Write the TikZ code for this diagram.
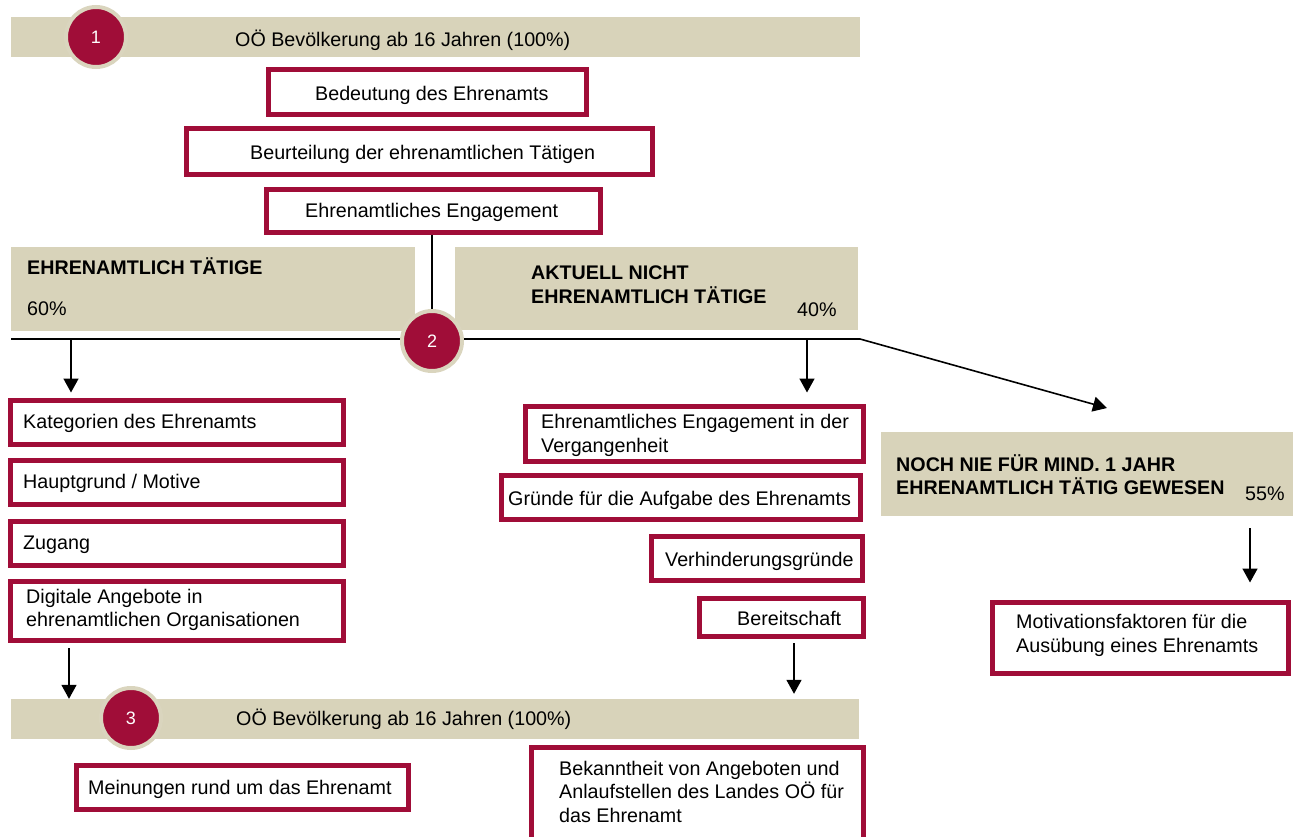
\documentclass[tikz,border=0pt]{standalone}
\usepackage{fontspec}
\setmainfont{Liberation Sans}
\usetikzlibrary{fit,arrows.meta}
\definecolor{crim}{HTML}{A00D38}
\definecolor{beige}{HTML}{D8D3BA}
\definecolor{ring}{HTML}{DAD5BE}
\tikzset{
  rbox/.style={draw=crim, line width=5pt, fill=white, inner sep=0pt, rectangle},
  band/.style={fill=beige, inner sep=0pt, rectangle},
  txt/.style={inner sep=0pt, anchor=base west, font=\fontsize{19.7}{23.5}\selectfont},
  btxt/.style={txt, font=\fontsize{19.7}{24}\selectfont\bfseries},
  num/.style={circle, fill=crim, draw=ring, line width=4pt, minimum size=60pt, inner sep=0pt, text=white, font=\fontsize{18}{20}\selectfont},
  conn/.style={draw=black, line width=1.6pt},
  arr/.style={conn, -{Triangle[width=15pt,length=14pt]}},
}
\begin{document}
\begin{tikzpicture}[x=1pt,y=-1pt]
\useasboundingbox (0,0) rectangle (1293,837);
% bands
\node[band, fit={(11,17)(860,57)}] (top) {};
\node[txt] (toptxt) at (235,46.5) {OÖ Bevölkerung ab 16 Jahren (100\%)};
\node[band, fit={(11,247)(415,331)}] (left) {};
\node[btxt] (lefth) at (27,274) {EHRENAMTLICH TÄTIGE};
\node[txt] (leftp) at (27,315) {60\%};
\node[band, fit={(455,247)(858,330)}] (right) {};
\node[btxt] (righth1) at (531,279) {AKTUELL NICHT};
\node[btxt] (righth2) at (531,303) {EHRENAMTLICH TÄTIGE};
\node[txt] (rightp) at (797,316) {40\%};
\node[band, fit={(881,432)(1293,516)}] (noch) {};
\node[btxt] (nochh1) at (896,471) {NOCH NIE FÜR MIND. 1 JAHR};
\node[btxt] (nochh2) at (896,494) {EHRENAMTLICH TÄTIG GEWESEN};
\node[txt] (nochp) at (1245,500) {55\%};
\node[band, fit={(11,699)(859,739)}] (bot) {};
\node[txt] (bottxt) at (236,725) {OÖ Bevölkerung ab 16 Jahren (100\%)};
% red boxes (outer edges inset by half the line width)
\node[rbox, fit={(268.5,69.5)(586.5,114.5)}] (bed) {};
\node[txt] (bedt) at (315,100.5) {Bedeutung des Ehrenamts};
\node[rbox, fit={(186.5,128.5)(652.5,174.5)}] (beu) {};
\node[txt] (beut) at (250,160) {Beurteilung der ehrenamtlichen Tätigen};
\node[rbox, fit={(266.5,189.5)(600.5,232.5)}] (eng) {};
\node[txt] (engt) at (305,218) {Ehrenamtliches Engagement};
\node[rbox, fit={(10.5,400.5)(343.5,444.5)}] (kat) {};
\node[txt] (katt) at (23,428) {Kategorien des Ehrenamts};
\node[rbox, fit={(10.5,460.5)(343.5,504.5)}] (hau) {};
\node[txt] (haut) at (23,488) {Hauptgrund / Motive};
\node[rbox, fit={(10.5,521.5)(343.5,565.5)}] (zug) {};
\node[txt] (zugt) at (23,549) {Zugang};
\node[rbox, fit={(10.5,581.5)(343.5,640.5)}] (dig) {};
\node[txt] (digt1) at (26,603) {Digitale Angebote in};
\node[txt] (digt2) at (26,626) {ehrenamtlichen Organisationen};
\node[rbox, fit={(525.5,406.5)(863.5,461.5)}] (ver) {};
\node[txt] (vert1) at (541,428) {Ehrenamtliches Engagement in der};
\node[txt] (vert2) at (541,452) {Vergangenheit};
\node[rbox, fit={(501.5,475.5)(860.5,519.5)}] (gru) {};
\node[txt] (grut) at (508,505) {Gründe für die Aufgabe des Ehrenamts};
\node[rbox, fit={(651.5,536.5)(862.5,580.5)}] (vhg) {};
\node[txt] (vhgt) at (665,566) {Verhinderungsgründe};
\node[rbox, fit={(699.5,598.5)(863.5,636.5)}] (ber) {};
\node[txt] (bert) at (737,625) {Bereitschaft};
\node[rbox, fit={(992.5,602.5)(1288.5,673.5)}] (mot) {};
\node[txt] (mott1) at (1016,628) {Motivationsfaktoren für die};
\node[txt] (mott2) at (1016,652) {Ausübung eines Ehrenamts};
\node[rbox, fit={(76.5,765.5)(408.5,809.5)}] (mei) {};
\node[txt] (meit) at (88,794) {Meinungen rund um das Ehrenamt};
\node[rbox, fit={(531.5,747.5)(863.5,850)}] (bek) {};
\node[txt] (bekt1) at (559,775) {Bekanntheit von Angeboten und};
\node[txt] (bekt2) at (559,798.5) {Anlaufstellen des Landes OÖ für};
\node[txt] (bekt3) at (559,822) {das Ehrenamt};
% connectors
\coordinate (c2pos) at (432,341);
\coordinate (hl) at (11,339);
\coordinate (hr) at (860,339);
\coordinate (dtip) at (1107,408);
\draw[conn, line width=1.5pt] (eng.south -| c2pos) -- (c2pos);
\draw[conn, line width=2.4pt] (hl) -- (hr);
\draw[arr, line width=1.6pt] (hr) -- (dtip);
\coordinate (a1) at (71,339);
\draw[arr, shorten >=5.5pt] (a1) -- (a1 |- kat.north);
\coordinate (a2) at (807,339);
\draw[arr, shorten >=11.5pt] (a2) -- (a2 |- ver.north);
\coordinate (a3) at (1250,528);
\draw[arr, shorten >=17.5pt] (a3) -- (a3 |- mot.north);
\coordinate (a4) at (69,648);
\draw[arr] (a4) -- (a4 |- bot.north);
\coordinate (a5) at (794,643);
\draw[arr, shorten >=5pt] (a5) -- (a5 |- bot.north);
% numbered circles
\node[num] (c1) at (96,37) {1};
\node[num] (c2) at (c2pos) {2};
\node[num] (c3) at (131,718) {3};
\end{tikzpicture}
\end{document}
